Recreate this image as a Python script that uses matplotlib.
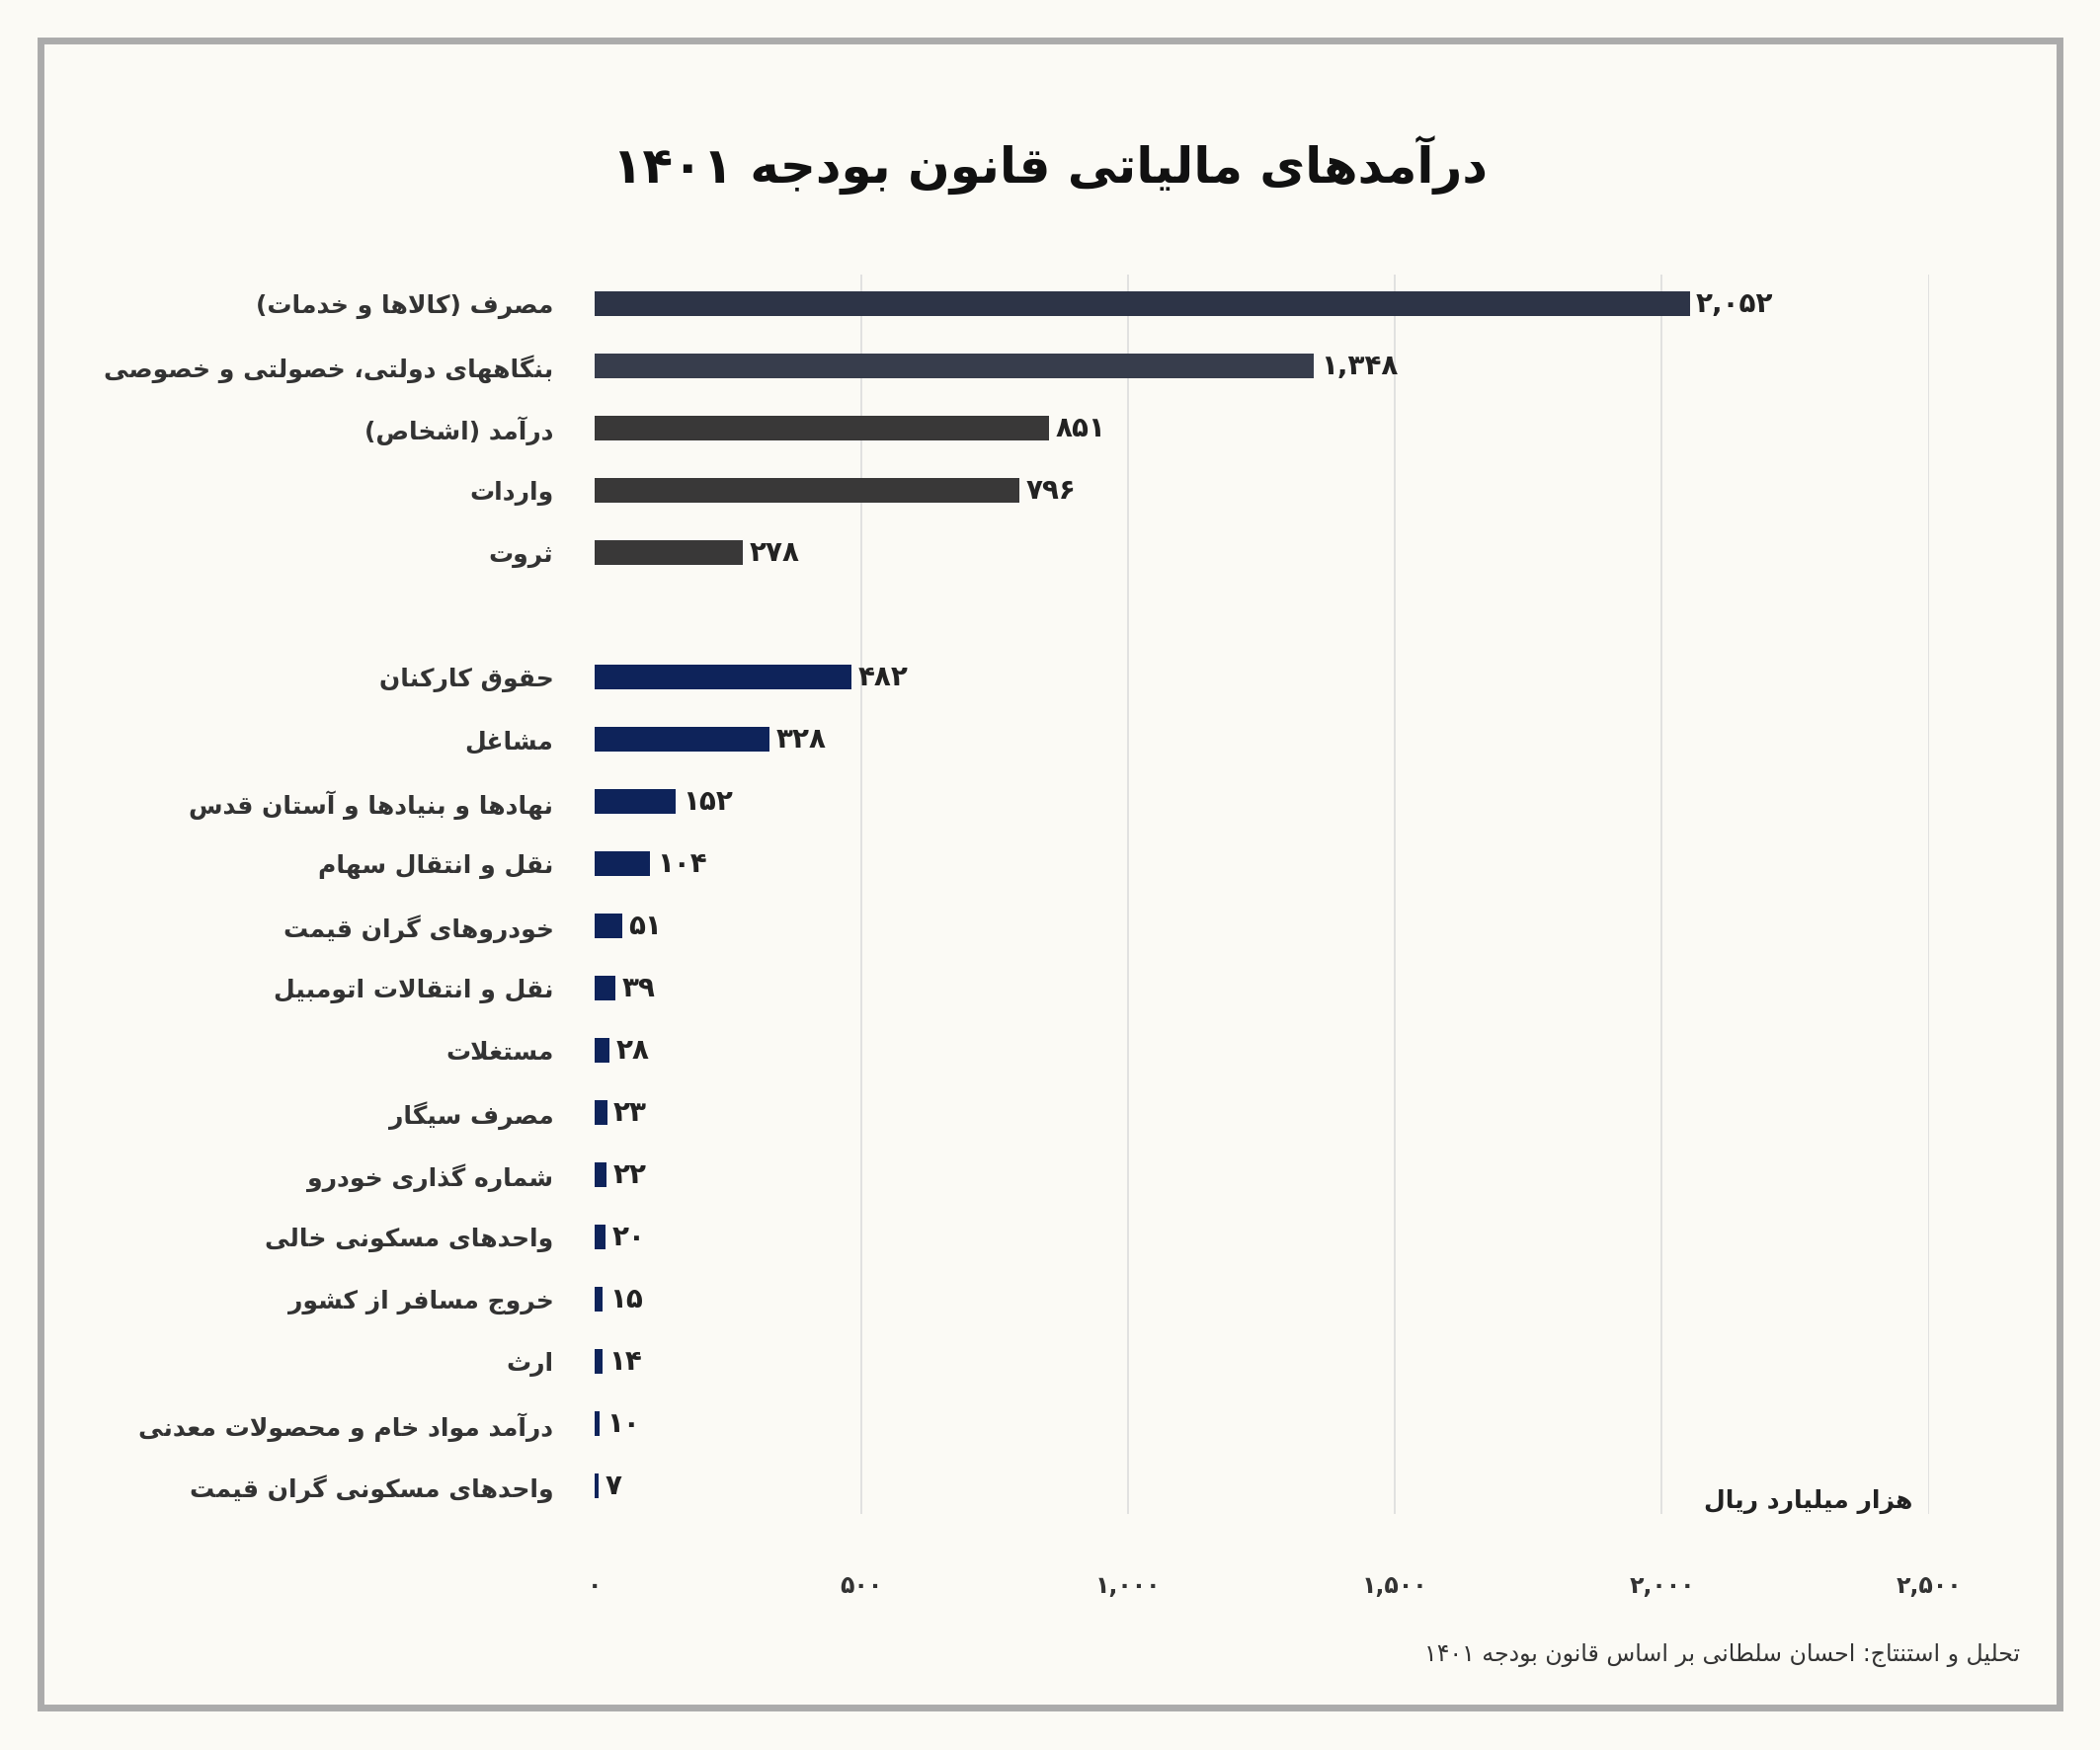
import matplotlib.pyplot as plt
from matplotlib.patches import Rectangle

# --- minimal Persian shaping (matplotlib has no complex text layout) ---
# letter: (isolated, final, initial, medial); two-form letters do not join to the next letter
FORMS = {
    "ا": (0xFE8D, 0xFE8E), "آ": (0xFE81, 0xFE82), "د": (0xFEA9, 0xFEAA), "ذ": (0xFEAB, 0xFEAC),
    "ر": (0xFEAD, 0xFEAE), "ز": (0xFEAF, 0xFEB0), "ژ": (0xFB8A, 0xFB8B), "و": (0xFEED, 0xFEEE),
    "ب": (0xFE8F, 0xFE90, 0xFE91, 0xFE92), "پ": (0xFB56, 0xFB57, 0xFB58, 0xFB59),
    "ت": (0xFE95, 0xFE96, 0xFE97, 0xFE98), "ث": (0xFE99, 0xFE9A, 0xFE9B, 0xFE9C),
    "ج": (0xFE9D, 0xFE9E, 0xFE9F, 0xFEA0), "چ": (0xFB7A, 0xFB7B, 0xFB7C, 0xFB7D),
    "ح": (0xFEA1, 0xFEA2, 0xFEA3, 0xFEA4), "خ": (0xFEA5, 0xFEA6, 0xFEA7, 0xFEA8),
    "س": (0xFEB1, 0xFEB2, 0xFEB3, 0xFEB4), "ش": (0xFEB5, 0xFEB6, 0xFEB7, 0xFEB8),
    "ص": (0xFEB9, 0xFEBA, 0xFEBB, 0xFEBC), "ض": (0xFEBD, 0xFEBE, 0xFEBF, 0xFEC0),
    "ط": (0xFEC1, 0xFEC2, 0xFEC3, 0xFEC4), "ظ": (0xFEC5, 0xFEC6, 0xFEC7, 0xFEC8),
    "ع": (0xFEC9, 0xFECA, 0xFECB, 0xFECC), "غ": (0xFECD, 0xFECE, 0xFECF, 0xFED0),
    "ف": (0xFED1, 0xFED2, 0xFED3, 0xFED4), "ق": (0xFED5, 0xFED6, 0xFED7, 0xFED8),
    "ک": (0xFB8E, 0xFB8F, 0xFB90, 0xFB91), "گ": (0xFB92, 0xFB93, 0xFB94, 0xFB95),
    "ل": (0xFEDD, 0xFEDE, 0xFEDF, 0xFEE0), "م": (0xFEE1, 0xFEE2, 0xFEE3, 0xFEE4),
    "ن": (0xFEE5, 0xFEE6, 0xFEE7, 0xFEE8), "ه": (0xFEE9, 0xFEEA, 0xFEEB, 0xFEEC),
    "ی": (0xFBFC, 0xFBFD, 0xFBFE, 0xFBFF),
}
LAM_ALEF = {"ا": (0xFEFB, 0xFEFC), "آ": (0xFEF5, 0xFEF6)}
MIRROR = {"(": ")", ")": "("}
LTR_CHARS = set("۰۱۲۳۴۵۶۷۸۹0123456789,.")


def fa(text):
    # join letters
    chars = list(text)
    out = []
    i = 0
    prev_joins = False
    while i < len(chars):
        c = chars[i]
        if c not in FORMS:
            out.append(c)
            prev_joins = False
            i += 1
            continue
        if c == "ل" and i + 1 < len(chars) and chars[i + 1] in LAM_ALEF:
            iso, fin = LAM_ALEF[chars[i + 1]]
            out.append(chr(fin if prev_joins else iso))
            prev_joins = False
            i += 2
            continue
        f = FORMS[c]
        nxt = chars[i + 1] if i + 1 < len(chars) else None
        next_ok = len(f) == 4 and nxt in FORMS
        if prev_joins and next_ok:
            g = f[3]
        elif prev_joins:
            g = f[1]
        elif next_ok:
            g = f[2]
        else:
            g = f[0]
        out.append(chr(g))
        prev_joins = len(f) == 4
        i += 1
    # visual order: reverse, keep number runs LTR
    runs = []
    for c in out:
        if c in LTR_CHARS and runs and runs[-1][0]:
            runs[-1][1].append(c)
        else:
            runs.append((c in LTR_CHARS, [c]))
    res = []
    for ltr, seq in reversed(runs):
        res.append("".join(seq) if ltr else MIRROR.get(seq[0], seq[0]))
    return "".join(res)


# --- data ---
categories = [
    "مصرف (کالاها و خدمات)", "بنگاههای دولتی، خصولتی و خصوصی", "درآمد (اشخاص)", "واردات", "ثروت",
    "حقوق کارکنان", "مشاغل", "نهادها و بنیادها و آستان قدس", "نقل و انتقال سهام",
    "خودروهای گران قیمت", "نقل و انتقالات اتومبیل", "مستغلات", "مصرف سیگار",
    "شماره گذاری خودرو", "واحدهای مسکونی خالی", "خروج مسافر از کشور", "ارث",
    "درآمد مواد خام و محصولات معدنی", "واحدهای مسکونی گران قیمت",
]
values = [2052, 1348, 851, 796, 278, 482, 328, 152, 104, 51, 39, 28, 23, 22, 20, 15, 14, 10, 7]
colors = ["#2D3447", "#373D4C", "#393838", "#393838", "#393838"] + ["#0E235A"] * 14
xticks = [0, 500, 1000, 1500, 2000, 2500]

FA_DIGITS = str.maketrans("0123456789", "۰۱۲۳۴۵۶۷۸۹")


def fa_num(v):
    return f"{v:,}".translate(FA_DIGITS)


# slot positions: gap of one slot after the first group of five
positions = list(range(5)) + [p + 1 for p in range(5, 19)]

plt.rcParams["font.family"] = "DejaVu Sans"
bg = "#FBFAF5"
fig = plt.figure(figsize=(21.26, 17.72), dpi=100, facecolor=bg)
fig.patches.append(Rectangle((0.0195, 0.024), 0.961, 0.953, transform=fig.transFigure,
                             fill=False, edgecolor="#ABABAB", linewidth=5))

ax = fig.add_axes([0.2832, 0.1348, 0.6352, 0.7083])
ax.set_facecolor(bg)
ax.barh(positions, values, height=0.4, color=colors, zorder=3)
for p, v in zip(positions, values):
    ax.text(v + 12, p, fa_num(v), va="center", ha="left", fontsize=20, fontweight="bold",
            color="#222222")

ax.set_xlim(0, 2500)
ax.set_ylim(19.45, -0.47)
ax.set_xticks(xticks)
ax.set_xticklabels([fa_num(t) for t in xticks], fontsize=17, fontweight="bold", color="#333333")
ax.set_yticks(positions)
ax.set_yticklabels([fa(c) for c in categories], fontsize=18, fontweight="bold", color="#333333")
ax.tick_params(axis="x", length=0, pad=44)
ax.tick_params(axis="y", length=0, pad=30)
for x in xticks[1:]:
    ax.axvline(x, color="#DCDCDC", linewidth=1.2, zorder=1)
for s in ax.spines.values():
    s.set_visible(False)

ax.text(2470, 19.25, fa("هزار میلیارد ریال"), ha="right", va="center", fontsize=18,
        fontweight="bold", color="#222222")

fig.text(0.5, 0.905, fa("درآمدهای مالیاتی قانون بودجه ۱۴۰۱"), ha="center", va="center",
         fontsize=36, fontweight="bold", color="#111111")
fig.text(0.962, 0.054, fa("تحلیل و استنتاج: احسان سلطانی بر اساس قانون بودجه ۱۴۰۱"),
         ha="right", va="center", fontsize=17, color="#333333")

fig.savefig("out.png", dpi=100, facecolor=bg)
